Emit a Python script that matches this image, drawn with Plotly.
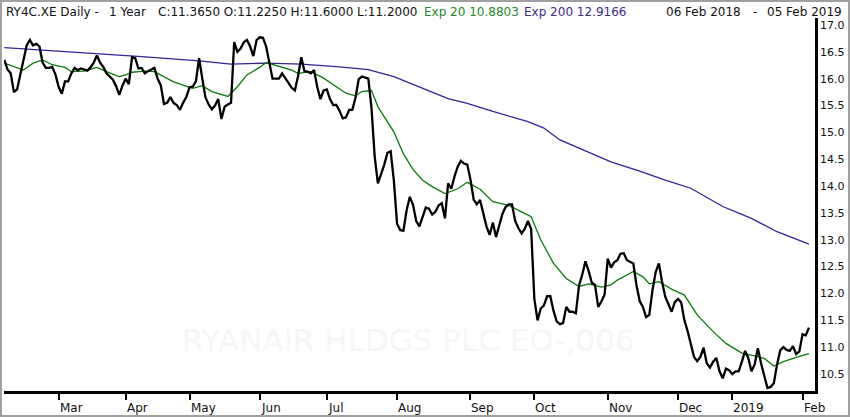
import pandas as pd
import plotly.graph_objects as go

# --- data ---
# trading days 06 Feb 2018 .. 05 Feb 2019 (exchange holidays removed)
holidays = ["2018-03-30", "2018-04-02", "2018-05-01", "2018-12-24",
            "2018-12-25", "2018-12-26", "2018-12-31", "2019-01-01"]
days = pd.bdate_range("2018-02-06", "2019-02-05")
days = days[~days.isin(pd.to_datetime(holidays))]

close = [
    16.35, 16.17, 16.10, 15.75, 15.80, 16.07, 16.30, 16.62, 16.72, 16.62,
    16.65, 16.60, 16.30, 16.20, 16.20, 16.22, 16.08, 15.85, 15.72, 15.95,
    15.95, 16.10, 16.20, 16.16, 16.19, 16.17, 16.15, 16.21, 16.30, 16.43,
    16.30, 16.22, 16.10, 16.04, 15.98, 15.86, 15.70, 15.87, 16.00, 15.90,
    16.40, 16.38, 16.19, 16.20, 16.10, 16.14, 16.17, 16.20, 16.00, 15.88,
    15.53, 15.55, 15.66, 15.55, 15.51, 15.42, 15.55, 15.66, 15.84, 15.85,
    15.95, 16.38, 16.00, 15.65, 15.52, 15.43, 15.50, 15.62, 15.25, 15.48,
    15.52, 15.55, 16.68, 16.50, 16.56, 16.68, 16.72, 16.60, 16.42, 16.72,
    16.77, 16.76, 16.60, 16.30, 16.00, 16.00, 16.00, 16.10, 16.02, 15.92,
    15.83, 15.78, 16.05, 16.40, 16.14, 16.13, 16.10, 16.16, 15.85, 15.62,
    15.78, 15.80, 15.62, 15.51, 15.51, 15.40, 15.26, 15.28, 15.42, 15.42,
    15.65, 15.99, 16.04, 16.02, 16.00, 15.45, 14.55, 14.05, 14.22, 14.40,
    14.62, 14.65, 14.10, 13.30, 13.18, 13.17, 13.55, 13.80, 13.65, 13.35,
    13.25, 13.44, 13.60, 13.58, 13.47, 13.52, 13.64, 13.68, 13.40, 14.05,
    13.95, 14.18, 14.36, 14.47, 14.42, 14.40, 14.12, 13.75, 13.66, 13.74,
    13.50, 13.25, 13.09, 13.32, 13.05, 13.26, 13.48, 13.61, 13.66, 13.66,
    13.35, 13.22, 13.12, 13.20, 13.35, 13.20, 11.90, 11.50, 11.72, 11.78,
    11.95, 11.95, 11.68, 11.48, 11.43, 11.45, 11.75, 11.66, 11.66, 11.63,
    12.15, 12.35, 12.60, 12.42, 12.20, 12.16, 11.75, 11.85, 11.98, 12.65,
    12.48, 12.58, 12.62, 12.74, 12.75, 12.62, 12.59, 12.56, 12.15, 11.86,
    11.75, 11.56, 11.60, 12.06, 12.40, 12.56, 12.22, 11.94, 11.80, 11.66,
    11.84, 11.90, 11.83, 11.50, 11.30, 11.05, 10.82, 10.74, 10.82, 10.99,
    10.70, 10.62, 10.73, 10.80, 10.55, 10.42, 10.60, 10.57, 10.50, 10.55,
    10.55, 10.73, 10.93, 10.80, 10.55, 10.68, 10.98, 10.70, 10.45, 10.24,
    10.26, 10.33, 10.67, 10.94, 11.00, 10.95, 10.93, 11.02, 10.87, 10.92,
    11.24, 11.22, 11.365,
]

# exponential averages, read at selected trading days
ema20_day = [0, 3, 6, 9, 12, 15, 19, 21, 25, 29, 32, 36, 38, 40, 44, 47, 50,
             53, 56, 59, 62, 65, 70, 73, 76, 80, 82, 87, 90, 92, 96, 100, 104,
             107, 110, 112, 115, 117, 119, 122, 125, 128, 131, 134, 138, 142,
             145, 149, 153, 158, 162, 165, 168, 172, 176, 180, 183, 187, 190,
             192, 197, 200, 202, 205, 209, 213, 217, 222, 226, 231, 235, 238,
             241, 244, 248, 252]
ema20 = [16.29, 16.22, 16.16, 16.29, 16.35, 16.26, 16.21, 16.13, 16.14, 16.21,
         16.13, 16.04, 16.07, 16.12, 16.14, 16.13, 16.04, 15.94, 15.88, 15.82,
         15.87, 15.76, 15.67, 15.85, 16.07, 16.21, 16.30, 16.22, 16.16, 16.10,
         16.13, 16.01, 15.85, 15.73, 15.68, 15.76, 15.78, 15.48, 15.29, 15.01,
         14.60, 14.31, 14.11, 13.99, 13.86, 13.95, 14.07, 13.94, 13.71, 13.64,
         13.52, 13.43, 13.00, 12.56, 12.28, 12.13, 12.18, 12.12, 12.16, 12.25,
         12.41, 12.31, 12.18, 12.22, 12.08, 11.97, 11.60, 11.29, 11.07, 10.89,
         10.84, 10.79, 10.65, 10.73, 10.81, 10.88]

ema200_day = [0, 30, 43, 61, 71, 82, 93, 105, 114, 122, 130, 139, 145, 153,
              164, 169, 174, 190, 199, 207, 215, 225, 234, 242, 252]
ema200 = [16.58, 16.47, 16.41, 16.33, 16.27, 16.29, 16.27, 16.22, 16.17,
          16.04, 15.85, 15.63, 15.54, 15.39, 15.20, 15.08, 14.86, 14.45,
          14.28, 14.11, 13.96, 13.62, 13.40, 13.15, 12.92]

y_ticks = [10.5, 11.0, 11.5, 12.0, 12.5, 13.0, 13.5, 14.0, 14.5, 15.0,
           15.5, 16.0, 16.5, 17.0]

# --- page geometry (pixels) ---
W, H = 850, 417
L, R, T, B = 4, 35, 18, 26
PW, PH = W - L - R, H - T - B


def px(xp):
    return (xp - L) / PW


def py(yp):
    return (H - B - yp) / PH


idx = list(range(len(days)))
month_start = [i for i in range(1, len(days)) if days[i].month != days[i - 1].month]
month_label = ["2019" if days[i].month == 1 else days[i].strftime("%b") for i in month_start]

FONT = "DejaVu Sans"
GREEN = "#0d7a0d"
PURPLE = "#3a1f99"

fig = go.Figure()

fig.add_trace(go.Scatter(x=ema200_day, y=ema200, mode="lines",
                         line=dict(color=PURPLE, width=1.3), hoverinfo="skip"))
fig.add_trace(go.Scatter(x=ema20_day, y=ema20, mode="lines",
                         line=dict(color=GREEN, width=1.3), hoverinfo="skip"))
fig.add_trace(go.Scatter(x=idx, y=close, mode="lines",
                         line=dict(color="black", width=2.3)))

ann = []
# header line
header = [
    ("RY4C.XE Daily -", 4, "#111111"),
    ("1 Year", 107, "#111111"),
    ("C:11.3650 O:11.2250 H:11.6000 L:11.2000", 156, "#111111"),
    ("Exp 20 10.8803", 422, "#1f8a1f"),
    ("Exp 200 12.9166", 522, "#3b2a8c"),
    ("06 Feb 2018", 664, "#111111"),
    ("-", 751, "#111111"),
    ("05 Feb 2019", 765, "#111111"),
]
for txt, xp, col in header:
    ann.append(dict(text=txt, x=px(xp), y=py(12), xref="paper", yref="paper",
                    xanchor="left", yanchor="middle", showarrow=False,
                    font=dict(family=FONT, size=12, color=col)))

# month labels, left aligned on their ticks
for i, lab in zip(month_start, month_label):
    ann.append(dict(text=lab, x=i, y=py(408), xref="x", yref="paper",
                    xanchor="left", yanchor="middle", xshift=-1, showarrow=False,
                    font=dict(family=FONT, size=12, color="#111111")))

# faint watermark
ann.append(dict(text="RYANAIR HLDGS PLC EO-,006", x=px(408), y=py(360),
                xref="paper", yref="paper", showarrow=False,
                font=dict(family=FONT, size=31, color="#f6f6f6")))

fig.update_layout(
    width=W, height=H,
    margin=dict(l=L, r=R, t=T, b=B),
    paper_bgcolor="white", plot_bgcolor="white",
    showlegend=False,
    annotations=ann,
    shapes=[dict(type="rect", xref="paper", yref="paper",
                 x0=px(1), x1=px(849), y0=py(416), y1=py(1),
                 line=dict(color="#a0a0a0", width=2))],
    xaxis=dict(range=[-0.1, 253.9], showgrid=False, zeroline=False,
               showline=True, linecolor="black", linewidth=2.5,
               tickvals=month_start, ticks="outside", ticklen=6, tickwidth=2,
               tickcolor="black", showticklabels=False),
    yaxis=dict(range=[10.184, 17.13], side="right", showgrid=False,
               zeroline=False, showline=True, linecolor="black", linewidth=2.5,
               tickvals=y_ticks, tickformat=".1f", ticks="",
               tickfont=dict(family=FONT, size=11, color="#111111")),
)

# page body has a default 8px margin; drop it so the figure fills the window
fig.write_html("out.html", config={"displayModeBar": False},
               post_script="document.body.style.margin='0px';")
